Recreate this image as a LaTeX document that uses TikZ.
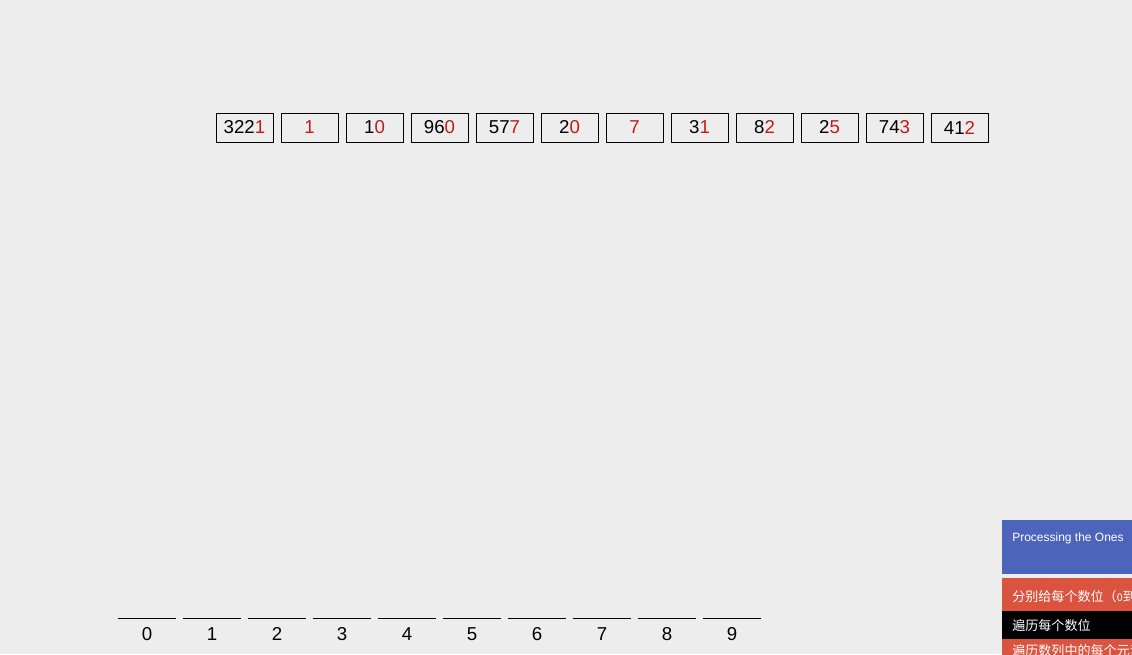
\documentclass[tikz,border=0pt]{standalone}
\usepackage{fontspec}
\setmainfont{Liberation Sans}
\newfontfamily\cjk{Noto Sans CJK SC}
\usepackage{xcolor}
\usetikzlibrary{positioning}
\definecolor{fondo}{HTML}{EDEDED}
\definecolor{digrojo}{HTML}{C41A1A}
\definecolor{panelazul}{HTML}{4C64B9}
\definecolor{panelrojo}{HTML}{D9533F}
\tikzset{
  numcaja/.style={rectangle, draw=black, fill=fondo, line width=0.65pt,
                  minimum width=42.75pt, minimum height=21.75pt, inner sep=0pt,
                  font=\fontsize{14}{16}\selectfont},
  cubeta/.style={rectangle, minimum width=43.5pt, minimum height=22.5pt,
                 inner sep=0pt, font=\fontsize{14}{16}\selectfont},
  raya/.style={line width=0.65pt, black},
  paneltxt/.style={anchor=west, inner sep=0pt, text=white,
                   font=\fontsize{9}{11}\selectfont},
  paneltxtcjk/.style={paneltxt, font=\fontsize{9.8}{11}\selectfont\cjk}
}

\begin{document}
\begin{tikzpicture}[x=0.75pt, y=-0.75pt]
  % --- Fondo ---
  \fill[fondo] (0,0) rectangle (1132,654);
  \useasboundingbox (0,0) rectangle (1132,654);

  % --- Numeros (digito de las unidades en rojo) ---
  \foreach \a/\b [count=\i from 0] in {322/1, /1, 1/0, 96/0, 57/7, 2/0, /7, 3/1, 8/2, 2/5, 74/3, 41/2}
    \node[numcaja] (n\i) at (244.5+65*\i,127.5) {\a\textcolor{digrojo}{\b}};

  % --- Cubetas 0..9 ---
  \foreach \i in {0,...,9} {
    \node[cubeta] (b\i) at (147+65*\i,634) {\i};
    \draw[raya] (b\i.north west) -- (b\i.north east);
  }

  % --- Panel lateral ---
  \begin{scope}
    \clip (1002,515) rectangle (1132,654);
    \fill[panelazul] (1002,520) rectangle (1140,574);
    \fill[panelrojo] (1002,578) rectangle (1140,611);
    \fill[black]     (1002,611) rectangle (1140,639);
    \fill[panelrojo] (1002,639) rectangle (1140,660);
    \node[paneltxt] (p1) at (1012,538) {Processing the Ones};
    \node[paneltxtcjk] (p2) at (1012,597) {分别给每个数位（{\fontsize{8}{10}\selectfont 0}到9）创建一个桶};
    \node[paneltxtcjk] (p3) at (1012,625) {遍历每个数位};
    \node[paneltxtcjk] (p4) at (1012,651) {遍历数列中的每个元素};
  \end{scope}
\end{tikzpicture}
\end{document}
